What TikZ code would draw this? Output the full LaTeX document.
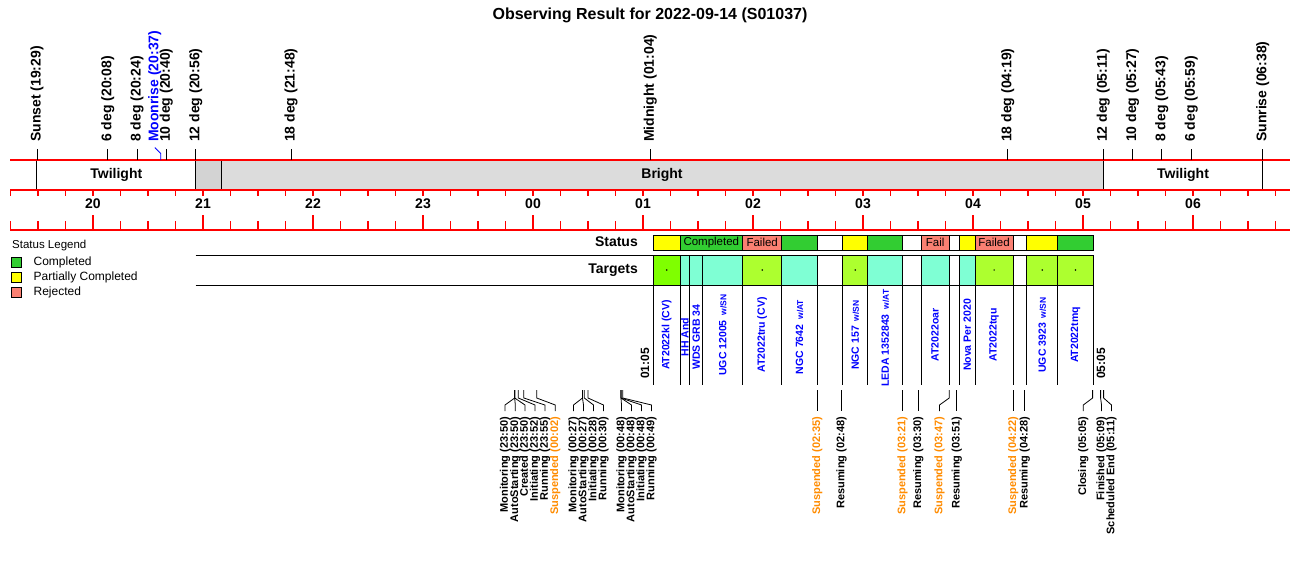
\documentclass[tikz,border=0pt]{standalone}
\usepackage{fontspec}
\setmainfont{Liberation Sans}
\usetikzlibrary{positioning}
\definecolor{stgreen}{HTML}{32CD32}
\definecolor{styellow}{HTML}{FFFF00}
\definecolor{stsalmon}{HTML}{FA8072}
\definecolor{tglime}{HTML}{7FFF00}
\definecolor{tgyellow}{HTML}{ADFF2F}
\definecolor{tgaqua}{HTML}{7FFFD4}
\definecolor{suspcol}{HTML}{FF8C00}
\definecolor{brightgray}{HTML}{DCDCDC}
\definecolor{dimgray2}{HTML}{D3D3D3}
\newcommand{\tgsuffix}[1]{\hspace{5pt}{\fontsize{8.5}{9}\selectfont #1}}
\tikzset{
  titletext/.style={inner sep=0pt,font=\fontsize{16}{16}\selectfont\bfseries},
  toplabel/.style={rotate=90,anchor=west,inner sep=0pt,font=\fontsize{14}{14}\selectfont\bfseries},
  bandtext/.style={inner sep=0pt,font=\fontsize{14}{14}\selectfont\bfseries},
  hourlabel/.style={inner sep=0pt,font=\fontsize{14}{14}\selectfont\bfseries},
  axisred/.style={red,line width=1.1pt},
  bandline/.style={black,line width=0.9pt},
  evlabel/.style={rotate=90,anchor=east,inner sep=0pt,outer sep=6pt,font=\fontsize{11}{11}\selectfont\bfseries},
  susplabel/.style={evlabel,text=suspcol},
  evline/.style={black,line width=0.8pt},
  tgtlabel/.style={rotate=90,inner sep=0pt,text=blue,font=\fontsize{10.5}{10.5}\selectfont\bfseries},
  timelabel/.style={rotate=90,anchor=west,inner sep=0pt,font=\fontsize{12}{12}\selectfont\bfseries},
  rowlabel/.style={anchor=east,inner sep=0pt,font=\fontsize{14}{14}\selectfont\bfseries},
  sttext/.style={inner sep=0pt,font=\fontsize{11.5}{11.5}\selectfont},
  cellline/.style={black,line width=0.9pt},
  stardot/.style={circle,fill=black,inner sep=0pt,minimum size=1.6pt},
  legbox/.style={draw=black,line width=0.8pt,minimum size=10pt,inner sep=0pt},
  legtext/.style={inner sep=0pt,font=\fontsize{12}{12}\selectfont},
}
\begin{document}
\begin{tikzpicture}[x=1pt,y=1pt]
    \useasboundingbox (0,0) rectangle (1300,-560);
    \fill[white] (0,0) rectangle (1300,-560);

    \node[titletext] (title) at (650,-15) {Observing Result for 2022-09-14 (S01037)};

    \fill[dimgray2] (195.7,-160) rectangle (221,-190);
    \fill[brightgray] (221,-160) rectangle (1103.2,-190);
    \draw[bandline] (36.9,-160) -- (36.9,-190);
    \draw[bandline] (195.7,-160) -- (195.7,-190);
    \draw[bandline] (221,-160) -- (221,-190);
    \draw[bandline] (1103.2,-160) -- (1103.2,-190);
    \draw[bandline] (1262.7,-160) -- (1262.7,-190);
    \node[bandtext] (twleft) at (116.3,-174.5) {Twilight};
    \node[bandtext] (bright) at (662,-174.5) {Bright};
    \node[bandtext] (twright) at (1183,-174.5) {Twilight};

    \draw[axisred] (10,-160) -- (1290,-160);
    \draw[axisred] (10,-190) -- (1290,-190);
    \draw[axisred] (10,-230) -- (1290,-230);
    \foreach \q in {-19,...,27} {
        \draw[axisred] ({533+27.5*\q},-190) -- ({533+27.5*\q},-195.5);
        \draw[axisred] ({533+27.5*\q},-221) -- ({533+27.5*\q},-230);
    }
    \foreach \h/\t in {-4/20,-3/21,-2/22,-1/23,0/00,1/01,2/02,3/03,4/04,5/05,6/06} {
        \draw[axisred] ({533+110*\h},-215) -- ({533+110*\h},-230);
        \node[hourlabel] (h\t) at ({533+110*\h},-204) {\t};
    }

    \coordinate (sunsetB) at (36.9,-160); \coordinate (sunsetT) at (36.9,-149);
    \coordinate (d6aB) at (107.7,-160); \coordinate (d6aT) at (107.7,-149);
    \coordinate (d8aB) at (137,-160); \coordinate (d8aT) at (137,-149);
    \coordinate (moonB) at (160.8,-160); \coordinate (moonT) at (154.8,-147.5);
    \coordinate (d10aB) at (166.3,-160); \coordinate (d10aT) at (166.3,-149);
    \coordinate (d12aB) at (195.7,-160); \coordinate (d12aT) at (195.7,-149);
    \coordinate (d18aB) at (291,-160); \coordinate (d18aT) at (291,-149);
    \coordinate (midB) at (650.3,-160); \coordinate (midT) at (650.3,-149);
    \coordinate (d18bB) at (1007.8,-160); \coordinate (d18bT) at (1007.8,-149);
    \coordinate (d12bB) at (1103.2,-160); \coordinate (d12bT) at (1103.2,-149);
    \coordinate (d10bB) at (1132.5,-160); \coordinate (d10bT) at (1132.5,-149);
    \coordinate (d8bB) at (1161.8,-160); \coordinate (d8bT) at (1161.8,-149);
    \coordinate (d6bB) at (1191.2,-160); \coordinate (d6bT) at (1191.2,-149);
    \coordinate (sunriseB) at (1262.7,-160); \coordinate (sunriseT) at (1262.7,-149);

    \node[toplabel] (sunset) at (36.9,-142) {Sunset (19:29)};
    \node[toplabel] (d6a) at (107.7,-142) {6 deg (20:08)};
    \node[toplabel] (d8a) at (137,-142) {8 deg (20:24)};
    \node[toplabel,text=blue] (moonrise) at (154.8,-142) {Moonrise (20:37)};
    \node[toplabel] (d10a) at (166.3,-142) {10 deg (20:40)};
    \node[toplabel] (d12a) at (195.7,-142) {12 deg (20:56)};
    \node[toplabel] (d18a) at (291,-142) {18 deg (21:48)};
    \node[toplabel] (midnight) at (650.3,-142) {Midnight (01:04)};
    \node[toplabel] (d18b) at (1007.8,-142) {18 deg (04:19)};
    \node[toplabel] (d12b) at (1103.2,-142) {12 deg (05:11)};
    \node[toplabel] (d10b) at (1132.5,-142) {10 deg (05:27)};
    \node[toplabel] (d8b) at (1161.8,-142) {8 deg (05:43)};
    \node[toplabel] (d6b) at (1191.2,-142) {6 deg (05:59)};
    \node[toplabel] (sunrise) at (1262.7,-142) {Sunrise (06:38)};

    \draw[evline] (sunsetB) -- (sunsetT); \draw[evline] (d6aB) -- (d6aT); \draw[evline] (d8aB) -- (d8aT);
    \draw[blue,line width=0.8pt] (moonB) -- (160.8,-153.5) -- (moonT);
    \draw[evline] (d10aB) -- (d10aT); \draw[evline] (d12aB) -- (d12aT); \draw[evline] (d18aB) -- (d18aT);
    \draw[evline] (midB) -- (midT); \draw[evline] (d18bB) -- (d18bT); \draw[evline] (d12bB) -- (d12bT);
    \draw[evline] (d10bB) -- (d10bT); \draw[evline] (d8bB) -- (d8bT); \draw[evline] (d6bB) -- (d6bT);
    \draw[evline] (sunriseB) -- (sunriseT);

    \node[anchor=west,inner sep=0pt,font=\fontsize{11.5}{11.5}\selectfont] (legend) at (12,-246) {Status Legend};
    \node[legbox,fill=stgreen] (lgc) at (16.5,-262.5) {};
    \node[legbox,fill=styellow] (lgp) at (16.5,-277.5) {};
    \node[legbox,fill=stsalmon] (lgr) at (16.5,-292.5) {};
    \node[legtext,right=11.5pt of lgc] (lgct) {Completed};
    \node[legtext,right=11.5pt of lgp] (lgpt) {Partially Completed};
    \node[legtext,right=11.5pt of lgr] (lgrt) {Rejected};

    \node[rowlabel] (status) at (638,-241.5) {Status};
    \node[rowlabel] (targets) at (638,-270) {Targets};
    \draw[cellline] (195.7,-255) -- (1093.3,-255);
    \draw[cellline] (195.7,-285) -- (1093.3,-285);

    \draw[cellline,fill=styellow] (653.3,-235) rectangle (680,-250);
    \draw[cellline,fill=stgreen] (680,-235) rectangle (742.7,-250);
    \draw[cellline,fill=stsalmon] (742.7,-235) rectangle (781.7,-250);
    \draw[cellline,fill=stgreen] (781.7,-235) rectangle (817.3,-250);
    \draw[cellline,fill=white] (817.3,-235) rectangle (842.7,-250);
    \draw[cellline,fill=styellow] (842.7,-235) rectangle (867.7,-250);
    \draw[cellline,fill=stgreen] (867.7,-235) rectangle (902.7,-250);
    \draw[cellline,fill=white] (902.7,-235) rectangle (921,-250);
    \draw[cellline,fill=stsalmon] (921,-235) rectangle (949.3,-250);
    \draw[cellline,fill=white] (949.3,-235) rectangle (959.3,-250);
    \draw[cellline,fill=styellow] (959.3,-235) rectangle (975,-250);
    \draw[cellline,fill=stsalmon] (975,-235) rectangle (1013.3,-250);
    \draw[cellline,fill=white] (1013.3,-235) rectangle (1026.7,-250);
    \draw[cellline,fill=styellow] (1026.7,-235) rectangle (1057.7,-250);
    \draw[cellline,fill=stgreen] (1057.7,-235) rectangle (1093.3,-250);
    \node[sttext] (stc1) at (711.3,-242.5) {Completed};
    \node[sttext] (stf1) at (762.2,-242.5) {Failed};
    \node[sttext] (stf2) at (935.1,-242.5) {Fail};
    \node[sttext] (stf3) at (994.1,-242.5) {Failed};

    \draw[cellline,fill=tglime] (653.3,-255) rectangle (680,-285);
    \draw[cellline,fill=tgaqua] (680,-255) rectangle (689.7,-285);
    \draw[cellline,fill=tgaqua] (689.7,-255) rectangle (702.7,-285);
    \draw[cellline,fill=tgaqua] (702.7,-255) rectangle (742.7,-285);
    \draw[cellline,fill=tgyellow] (742.7,-255) rectangle (781.7,-285);
    \draw[cellline,fill=tgaqua] (781.7,-255) rectangle (817.3,-285);
    \draw[cellline,fill=white] (817.3,-255) rectangle (842.7,-285);
    \draw[cellline,fill=tgyellow] (842.7,-255) rectangle (867.7,-285);
    \draw[cellline,fill=tgaqua] (867.7,-255) rectangle (902.7,-285);
    \draw[cellline,fill=white] (902.7,-255) rectangle (921,-285);
    \draw[cellline,fill=tgaqua] (921,-255) rectangle (949.3,-285);
    \draw[cellline,fill=white] (949.3,-255) rectangle (959.3,-285);
    \draw[cellline,fill=tgaqua] (959.3,-255) rectangle (975,-285);
    \draw[cellline,fill=tgyellow] (975,-255) rectangle (1013.3,-285);
    \draw[cellline,fill=white] (1013.3,-255) rectangle (1026.7,-285);
    \draw[cellline,fill=tgyellow] (1026.7,-255) rectangle (1057.7,-285);
    \draw[cellline,fill=tgyellow] (1057.7,-255) rectangle (1093.3,-285);
    \foreach \bx in {653.3,680,689.7,702.7,742.7,781.7,817.3,842.7,867.7,902.7,921,949.3,959.3,975,1013.3,1026.7,1057.7,1093.3}
        \draw[cellline] (\bx,-285) -- (\bx,-385);
    \node[stardot] (dot1) at (666.7,-270) {};
    \node[stardot] (dot2) at (762.2,-270) {};
    \node[stardot] (dot3) at (855.2,-270) {};
    \node[stardot] (dot4) at (994.1,-270) {};
    \node[stardot] (dot5) at (1042.2,-270) {};
    \node[stardot] (dot6) at (1075.5,-270) {};

    \node[tgtlabel] (t1) at (666.7,-335) {AT2022kl (CV)};
    \node[tgtlabel] (t2) at (684.9,-337) {HH And};
    \node[tgtlabel] (t3) at (696.2,-337) {WDS GRB 34};
    \node[tgtlabel] (t4) at (722.7,-335) {UGC 12005\tgsuffix{w/SN}};
    \node[tgtlabel] (t5) at (762.2,-335) {AT2022tru (CV)};
    \node[tgtlabel] (t6) at (799.5,-337) {NGC 7642\tgsuffix{w/AT}};
    \node[tgtlabel] (t7) at (855.2,-335) {NGC 157\tgsuffix{w/SN}};
    \node[tgtlabel] (t8) at (885.2,-338) {LEDA 1352843\tgsuffix{w/AT}};
    \node[tgtlabel] (t9) at (935.1,-335) {AT2022oar};
    \node[tgtlabel] (t10) at (967.2,-335) {Nova Per 2020};
    \node[tgtlabel] (t11) at (994.1,-335) {AT2022tqu};
    \node[tgtlabel] (t12) at (1042.2,-335) {UGC 3923\tgsuffix{w/SN}};
    \node[tgtlabel] (t13) at (1075.5,-335) {AT2022tmq};
    \node[timelabel] (start) at (645,-379) {01:05};
    \node[timelabel] (finish) at (1101,-379) {05:05};

    \coordinate (ea1) at (514.7,-390); \coordinate (ea4) at (518.3,-390);
    \coordinate (ea5) at (523.8,-390); \coordinate (ea6) at (536.7,-390);
    \coordinate (eb1) at (582.5,-390); \coordinate (eb3) at (584.3,-390);
    \coordinate (eb4) at (588,-390);
    \coordinate (ec1) at (621,-390); \coordinate (ec4) at (622.8,-390);
    \coordinate (ed1) at (817.2,-390); \coordinate (ed2) at (841.5,-390);
    \coordinate (ed3) at (902.5,-390); \coordinate (ed4) at (918.2,-390);
    \coordinate (ed5) at (949.2,-390); \coordinate (ed6) at (956.8,-390);
    \coordinate (ed7) at (1013.3,-390); \coordinate (ed8) at (1024.8,-390);
    \coordinate (ed9) at (1092.6,-390); \coordinate (ed10) at (1100.6,-390);
    \coordinate (ed11) at (1103.6,-390);

    \node[evlabel] (mon1) at (505,-411) {Monitoring (23:50)};
    \node[evlabel] (auto1) at (515.3,-411) {AutoStarting (23:50)};
    \node[evlabel] (created) at (525,-411) {Created (23:50)};
    \node[evlabel] (init1) at (535,-411) {Initiating (23:52)};
    \node[evlabel] (run1) at (545,-411) {Running (23:55)};
    \node[susplabel] (susp1) at (555.3,-411) {Suspended (00:02)};
    \node[evlabel] (mon2) at (573.5,-411) {Monitoring (00:27)};
    \node[evlabel] (auto2) at (583.5,-411) {AutoStarting (00:27)};
    \node[evlabel] (init2) at (593.5,-411) {Initiating (00:28)};
    \node[evlabel] (run2) at (603.5,-411) {Running (00:30)};
    \node[evlabel] (mon3) at (621.5,-411) {Monitoring (00:48)};
    \node[evlabel] (auto3) at (631.5,-411) {AutoStarting (00:48)};
    \node[evlabel] (init3) at (641.5,-411) {Initiating (00:48)};
    \node[evlabel] (run3) at (651.5,-411) {Running (00:49)};
    \node[susplabel] (susp2) at (817.2,-411) {Suspended (02:35)};
    \node[evlabel] (res2) at (841.5,-411) {Resuming (02:48)};
    \node[susplabel] (susp3) at (902.5,-411) {Suspended (03:21)};
    \node[evlabel] (res3) at (918.2,-411) {Resuming (03:30)};
    \node[susplabel] (susp4) at (939.5,-411) {Suspended (03:47)};
    \node[evlabel] (res4) at (956.8,-411) {Resuming (03:51)};
    \node[susplabel] (susp5) at (1013.3,-411) {Suspended (04:22)};
    \node[evlabel] (res5) at (1024.8,-411) {Resuming (04:28)};
    \node[evlabel] (closing) at (1083.3,-411) {Closing (05:05)};
    \node[evlabel] (finished) at (1101.5,-411) {Finished (05:09)};
    \node[evlabel] (schedend) at (1111.5,-411) {Scheduled End (05:11)};

    \draw[evline] (ea1) -- (514.7,-398) -- (505,-405) -- (mon1.east);
    \draw[evline] (ea1) -- (514.7,-398) -- (515.3,-405) -- (auto1.east);
    \draw[evline] (ea1) -- (514.7,-398) -- (525,-405) -- (created.east);
    \draw[evline] (ea4) -- (518.3,-398) -- (535,-405) -- (init1.east);
    \draw[evline] (ea5) -- (523.8,-398) -- (545,-405) -- (run1.east);
    \draw[evline] (ea6) -- (536.7,-398) -- (555.3,-405) -- (susp1.east);
    \draw[evline] (eb1) -- (582.5,-398) -- (573.5,-405) -- (mon2.east);
    \draw[evline] (eb1) -- (582.5,-398) -- (583.5,-405) -- (auto2.east);
    \draw[evline] (eb3) -- (584.3,-398) -- (593.5,-405) -- (init2.east);
    \draw[evline] (eb4) -- (588,-398) -- (603.5,-405) -- (run2.east);
    \draw[evline] (ec1) -- (621,-398) -- (621.5,-405) -- (mon3.east);
    \draw[evline] (ec1) -- (621,-398) -- (631.5,-405) -- (auto3.east);
    \draw[evline] (ec1) -- (621,-398) -- (641.5,-405) -- (init3.east);
    \draw[evline] (ec4) -- (622.8,-398) -- (651.5,-405) -- (run3.east);
    \draw[evline] (ed1) -- (susp2.east);
    \draw[evline] (ed2) -- (res2.east);
    \draw[evline] (ed3) -- (susp3.east);
    \draw[evline] (ed4) -- (res3.east);
    \draw[evline] (ed5) -- (949.2,-398) -- (939.5,-405) -- (susp4.east);
    \draw[evline] (ed6) -- (res4.east);
    \draw[evline] (ed7) -- (susp5.east);
    \draw[evline] (ed8) -- (res5.east);
    \draw[evline] (ed9) -- (1092.6,-398) -- (1083.3,-405) -- (closing.east);
    \draw[evline] (ed10) -- (1100.6,-398) -- (1101.5,-405) -- (finished.east);
    \draw[evline] (ed11) -- (1103.6,-398) -- (1111.5,-405) -- (schedend.east);
\end{tikzpicture}
\end{document}
